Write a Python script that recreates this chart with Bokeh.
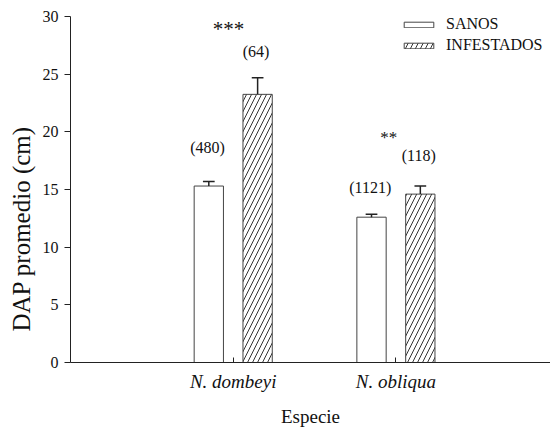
from bokeh.plotting import figure
from bokeh.models import Range1d, FixedTicker, Legend, LegendItem, ColumnDataSource, Title
from bokeh.core.properties import value
from bokeh.embed import file_html
from bokeh.resources import INLINE

especies = ["N. dombeyi", "N. obliqua"]
pos = [1, 2]
sanos = [15.3, 12.6]
sanos_err = [0.4, 0.26]
infestados = [23.25, 14.6]
infestados_err = [1.45, 0.7]
n_sanos = ["(480)", "(1121)"]
n_infestados = ["(64)", "(118)"]
signif = ["***", "**"]
y_ticks = [0, 5, 10, 15, 20, 25, 30]

FONT = "Liberation Serif"
OFF = 0.15
W = 0.18

p = figure(width=550, height=429, output_backend="svg", toolbar_location=None,
           x_range=Range1d(0, 2.95), y_range=Range1d(0, 30),
           min_border_left=70, min_border_top=16, min_border_bottom=65, min_border_right=0)
p.outline_line_color = None
p.xgrid.visible = False
p.ygrid.visible = False

xs_s = [x - OFF for x in pos]
xs_i = [x + OFF for x in pos]
src_s = ColumnDataSource(dict(x=xs_s, top=sanos, up=[v + e for v, e in zip(sanos, sanos_err)]))
src_i = ColumnDataSource(dict(x=xs_i, top=infestados, up=[v + e for v, e in zip(infestados, infestados_err)]))

r_s = p.vbar(x="x", top="top", width=W, source=src_s, fill_color="white", line_color="#444444", line_width=1)
r_i = p.vbar(x="x", top="top", width=W, source=src_i, fill_color="white", line_color="#444444", line_width=1,
             hatch_pattern="/", hatch_color="#333333", hatch_scale=10, hatch_weight=1)

cap = 0.036
for src in (src_s, src_i):
    p.segment(x0="x", y0="top", x1="x", y1="up", source=src, line_color="#222222", line_width=1.5)
    d = src.data
    p.segment(x0=[x - cap for x in d["x"]], y0=d["up"], x1=[x + cap for x in d["x"]], y1=d["up"],
              line_color="#222222", line_width=1.5)

# sample sizes and significance
p.text(x=[x - 0.008 for x in xs_s], y=[18.66, 15.2], text=n_sanos, text_align="center", text_baseline="middle",
       text_font=value(FONT), text_font_size="16px", text_color="#111111")
p.text(x=[x - 0.01 for x in xs_i], y=[27.0, 17.93], text=n_infestados,
       text_align="center", text_baseline="middle",
       text_font=value(FONT), text_font_size="16px", text_color="#111111")
p.text(x=[0.971], y=[28.95], text=signif[:1], text_align="center", text_baseline="alphabetic",
       text_font=value(FONT), text_font_size="21px", text_color="#111111")
p.text(x=[1.956], y=[19.5], text=signif[1:], text_align="center", text_baseline="alphabetic",
       text_font=value(FONT), text_font_size="17px", text_color="#111111")

# y axis title, set lower than the frame centre as in the source
ytitle = Title(text="DAP promedio (cm)", align="left", offset=31, standoff=6, vertical_align="top",
               text_font=FONT, text_font_size="25px", text_font_style="normal", text_color="#111111")
p.add_layout(ytitle, "left")

# axes
p.yaxis.ticker = FixedTicker(ticks=y_ticks)
p.yaxis.minor_tick_line_color = None
p.yaxis.major_tick_in = 0
p.yaxis.major_tick_out = 6
p.yaxis.major_label_standoff = 6

p.xaxis.ticker = FixedTicker(ticks=pos)
p.xaxis.major_label_overrides = {1: especies[0], 2: especies[1]}
p.xaxis.minor_tick_line_color = None
p.xaxis.major_tick_in = 5
p.xaxis.major_tick_out = 0
p.xaxis.axis_label = "Especie"
p.xaxis.major_label_text_font_style = "italic"
p.xaxis.major_label_standoff = 8
p.xaxis.axis_label_standoff = 11

for ax in (p.xaxis[0], p.yaxis[0]):
    ax.axis_line_color = "#222222"
    ax.major_tick_line_color = "#222222"
    ax.major_label_text_font = FONT
    ax.major_label_text_color = "#111111"
    ax.axis_label_text_font = FONT
    ax.axis_label_text_font_style = "normal"
    ax.axis_label_text_color = "#111111"
p.yaxis.major_label_text_font_size = "16px"
p.xaxis.major_label_text_font_size = "19px"
p.xaxis.axis_label_text_font_size = "19px"

legend = Legend(items=[LegendItem(label="SANOS", renderers=[r_s]),
                       LegendItem(label="INFESTADOS", renderers=[r_i])],
                location=(330, 307))
legend.glyph_width = 37
legend.glyph_height = 7
legend.label_standoff = 9
legend.label_height = 20
legend.spacing = 1
legend.padding = 0
legend.margin = 0
legend.border_line_alpha = 0
legend.background_fill_alpha = 0
legend.label_text_font = FONT
legend.label_text_font_size = "16px"
legend.label_text_color = "#111111"
p.add_layout(legend, "center")

open("out.html", "w").write(file_html(p, INLINE))
